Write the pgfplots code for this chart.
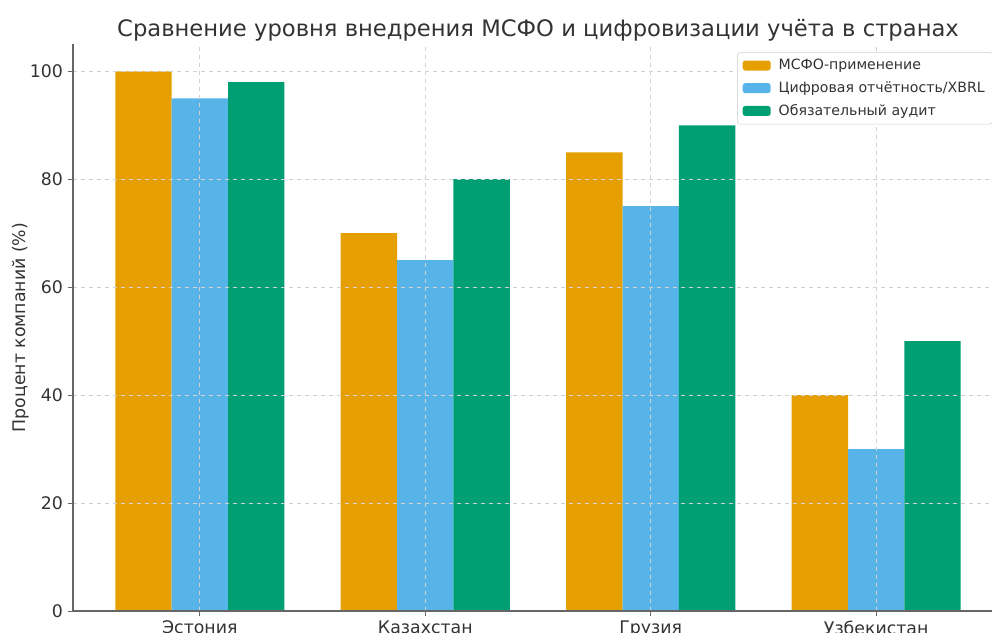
\documentclass[border=0pt]{standalone}
\usepackage{fontspec}
\setmainfont{DejaVu Sans}
\usepackage{pgfplots}
\pgfplotsset{compat=1.18}
\definecolor{cOr}{HTML}{E69F00}
\definecolor{cBl}{HTML}{56B4E9}
\definecolor{cGr}{HTML}{009E73}
\begin{document}
\begin{tikzpicture}
\begin{axis}[
  at={(0,0)}, anchor=south west,
  scale only axis, width=697.5pt, height=425pt,
  xmin=-0.5625, xmax=3.5625, ymin=0, ymax=105,
  axis x line*=bottom, axis y line*=left,
  axis line style={black!60, line width=0.8pt},
  xtick={0,1,2,3},
  xticklabels={Эстония,Казахстан,Грузия,Узбекистан},
  ytick={0,20,40,60,80,100},
  tick align=outside, major tick length=4pt,
  tick style={black!60, line width=0.7pt},
  /pgf/number format/assume math mode=true,
  ticklabel style={font=\fontsize{13}{15}\selectfont, text=black!80},
  grid=major,
  grid style={dashed, black!18, line width=0.5pt},
  axis on top,
  ylabel={Процент компаний (\%)},
  ylabel shift=-6pt,
  ylabel style={font=\fontsize{13}{15}\selectfont, text=black!80},
  title={Сравнение уровня внедрения МСФО и цифровизации учёта в странах},
  title style={font=\fontsize{17}{20}\selectfont, text=black!80, yshift=-7.5pt},
  legend style={at={(1,1)}, anchor=north east, xshift=-7.5pt, yshift=-6pt,
    font=\fontsize{10.6}{12.5}\selectfont, text=black!80,
    draw=black!20, rounded corners=2pt, inner xsep=4pt, inner ysep=3pt,
    row sep=3.5pt},
  legend cell align=left,
  legend image code/.code={\fill[#1, draw=none] (0pt,-3.75pt) rectangle (21pt,3.75pt);},
  every axis legend/.append style={/tikz/every odd column/.append style={column sep=4pt}},
]
\addplot[ybar, bar width=0.25, bar shift=-0.25, fill=cOr, draw=none] coordinates {(0,100) (1,70) (2,85) (3,40)};
\addlegendentry{МСФО-применение}
\addplot[ybar, bar width=0.25, bar shift=0, fill=cBl, draw=none] coordinates {(0,95) (1,65) (2,75) (3,30)};
\addlegendentry{Цифровая отчётность/XBRL}
\addplot[ybar, bar width=0.25, bar shift=0.25, fill=cGr, draw=none] coordinates {(0,98) (1,80) (2,90) (3,50)};
\addlegendentry{Обязательный аудит}
\end{axis}
\pgfresetboundingbox
\path[use as bounding box] (-54.75pt,-15.75pt) rectangle (689.25pt,458.25pt);
\end{tikzpicture}
\end{document}
